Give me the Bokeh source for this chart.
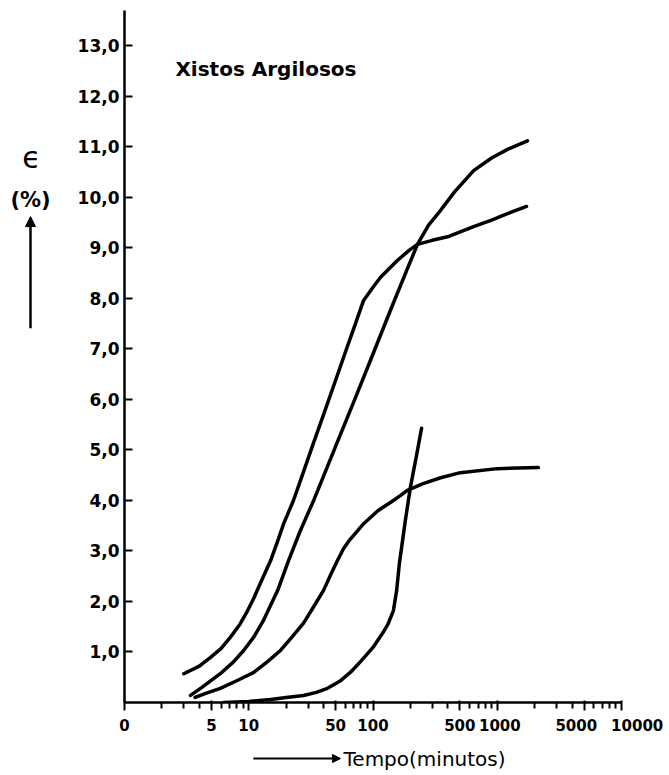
from bokeh.plotting import figure
from bokeh.models import Range1d, FixedTicker, Label, Arrow, NormalHead
from bokeh.layouts import row, column
from bokeh.embed import file_html
from bokeh.resources import INLINE

# ---- data ----
curve_a_t = [3.0, 4, 4.9, 6, 7.1, 8.5, 9.8, 11, 12.4, 15, 17, 19.1, 22.9, 27, 33, 40, 50,
             60, 72, 84, 100, 115, 157, 195, 228, 300, 398, 645, 900, 1210, 1720]
curve_a_e = [0.57, 0.72, 0.89, 1.07, 1.29, 1.55, 1.82, 2.07, 2.36, 2.81, 3.18, 3.54, 4.0,
             4.5, 5.12, 5.7, 6.38, 6.94, 7.49, 7.96, 8.22, 8.42, 8.75, 8.95, 9.07, 9.15,
             9.22, 9.42, 9.55, 9.68, 9.82]

curve_b_t = [3.4, 4.2, 5.9, 7.5, 9.1, 11, 13.1, 17.1, 20.9, 26, 33.3, 40, 50, 70, 100, 140,
             190, 228, 280, 349, 450, 645, 900, 1210, 1750]
curve_b_e = [0.14, 0.3, 0.57, 0.8, 1.03, 1.3, 1.62, 2.22, 2.81, 3.4, 4.0, 4.48, 5.07, 5.95,
             6.9, 7.8, 8.6, 9.07, 9.45, 9.74, 10.1, 10.53, 10.78, 10.95, 11.12]

curve_c_t = [3.7, 4.5, 5.9, 8, 10.9, 14, 18, 22, 27.6, 33, 40, 46, 52, 58, 65, 75, 84, 110,
             140, 167, 189, 250, 350, 505, 1000, 2140]
curve_c_e = [0.1, 0.18, 0.28, 0.43, 0.59, 0.8, 1.03, 1.28, 1.57, 1.88, 2.22, 2.55, 2.82,
             3.05, 3.22, 3.4, 3.54, 3.8, 3.97, 4.1, 4.2, 4.33, 4.45, 4.55, 4.63, 4.65]

curve_d_t = [6.3, 10, 15, 20, 27.6, 35, 43, 54, 66, 80, 100, 120, 132, 146, 155, 163, 182,
             200, 222, 246]
curve_d_e = [0.0, 0.02, 0.06, 0.1, 0.14, 0.2, 0.28, 0.42, 0.6, 0.82, 1.09, 1.38, 1.55, 1.82,
             2.22, 2.75, 3.6, 4.26, 4.84, 5.43]

x_ticks = [1, 5, 10, 50, 100, 500, 1000, 5000, 10000]
x_tick_labels = ["0", "5", "10", "50", "100", "500", "1000", "5000", "10000"]
x_minor = [2, 3, 4, 6, 7, 8, 9, 20, 30, 40, 60, 70, 80, 90, 200, 300, 400, 600, 700, 800,
           900, 2000, 3000, 4000, 6000, 7000, 8000, 9000]
y_ticks = [1, 2, 3, 4, 5, 6, 7, 8, 9, 10, 11, 12, 13]
y_tick_labels = ["1,0", "2,0", "3,0", "4,0", "5,0", "6,0", "7,0", "8,0", "9,0", "10,0",
                 "11,0", "12,0", "13,0"]

title_text = "Xistos Argilosos"
x_label = "Tempo(minutos)"
y_label_top = "\u03f5"
y_label_bottom = "(%)"

FONT = "DejaVu Sans"
Y_MAX = 13.7
X_MIN, X_MAX = 1, 10000
NB = "\u00a0"
# non-breaking padding nudges the crowded labels apart, as in the original print
x_label_pad = {"1000": (1, 0), "5000": (0, 3), "10000": (6, 0)}


def padded(s):
    lead, trail = x_label_pad.get(s, (0, 0))
    return NB * lead + s + NB * trail


def bare(fig):
    fig.outline_line_color = None
    fig.xgrid.visible = False
    fig.ygrid.visible = False
    fig.background_fill_color = "white"
    fig.border_fill_color = "white"


# ---- main chart ----
p = figure(width=602, height=742, x_axis_type="log",
           x_range=Range1d(X_MIN, X_MAX), y_range=Range1d(0, Y_MAX),
           output_backend="svg", toolbar_location=None,
           min_border_left=60, min_border_right=45, min_border_top=10, min_border_bottom=40)
bare(p)

for t, e in [(curve_a_t, curve_a_e), (curve_b_t, curve_b_e),
             (curve_c_t, curve_c_e), (curve_d_t, curve_d_e)]:
    p.line(t, e, line_color="black", line_width=3.5, line_cap="round", line_join="round")

xa = p.xaxis[0]
xa.ticker = FixedTicker(ticks=x_ticks, minor_ticks=x_minor)
xa.major_label_overrides = {k: padded(v) for k, v in zip(x_ticks, x_tick_labels)}
xa.axis_line_width = 2.5
xa.axis_line_color = "black"
xa.major_tick_line_width = 2
xa.minor_tick_line_width = 2
xa.major_tick_out = 8
xa.major_tick_in = 2
xa.minor_tick_out = 6
xa.minor_tick_in = 0
xa.major_label_text_font = FONT
xa.major_label_text_font_style = "bold"
xa.major_label_text_font_size = "15px"
xa.major_label_text_color = "black"
xa.major_label_standoff = 6

ya = p.yaxis[0]
ya.ticker = FixedTicker(ticks=y_ticks, minor_ticks=[])
ya.major_label_overrides = {k: v for k, v in zip(y_ticks, y_tick_labels)}
ya.axis_line_width = 2.5
ya.axis_line_color = "black"
ya.major_tick_line_width = 2
ya.major_tick_in = 8
ya.major_tick_out = 0
ya.minor_tick_in = 0
ya.minor_tick_out = 0
ya.major_label_text_font = FONT
ya.major_label_text_font_style = "bold"
ya.major_label_text_font_size = "17px"
ya.major_label_text_color = "black"
ya.major_label_standoff = 5

p.add_layout(Label(x=2.57, y=12.55, text=title_text, text_font=FONT, text_font_style="bold",
                   text_font_size="20px", text_baseline="middle", text_align="left",
                   text_color="black"))

# ---- left strip: y label with upward arrow ----
left = figure(width=64, height=742, x_range=Range1d(0, 64), y_range=Range1d(0, Y_MAX),
              output_backend="svg", toolbar_location=None,
              min_border_left=0, min_border_right=0, min_border_top=10, min_border_bottom=40)
bare(left)
left.axis.visible = False
left.add_layout(Label(x=31, y=10.79, text=y_label_top, text_font=FONT,
                      text_font_size="30px", text_baseline="middle", text_align="center",
                      text_color="black"))
left.add_layout(Label(x=30, y=9.94, text=y_label_bottom, text_font=FONT, text_font_style="bold",
                      text_font_size="21px", text_baseline="middle", text_align="center",
                      text_color="black"))
left.add_layout(Arrow(x_start=30, y_start=7.41, x_end=30, y_end=9.62, line_width=2.5,
                      line_color="black",
                      end=NormalHead(size=10, fill_color="black", line_color="black")))

# ---- bottom strip: x label with right arrow ----
bottom = figure(width=602, height=30, x_axis_type="log", x_range=Range1d(X_MIN, X_MAX),
                y_range=Range1d(0, 30), output_backend="svg", toolbar_location=None,
                min_border_left=60, min_border_right=45, min_border_top=0, min_border_bottom=0)
bare(bottom)
bottom.axis.visible = False
bottom.add_layout(Arrow(x_start=10.9, y_start=14, x_end=54.8, y_end=14, line_width=2,
                        line_color="black",
                        end=NormalHead(size=8, fill_color="black", line_color="black")))
bottom.add_layout(Label(x=57.9, y=14, text=x_label, text_font=FONT,
                        text_font_size="20px", text_baseline="middle", text_align="left",
                        text_color="black"))

layout = row(left, column(p, bottom, spacing=0), spacing=0)
open("out.html", "w").write(file_html(layout, INLINE))
